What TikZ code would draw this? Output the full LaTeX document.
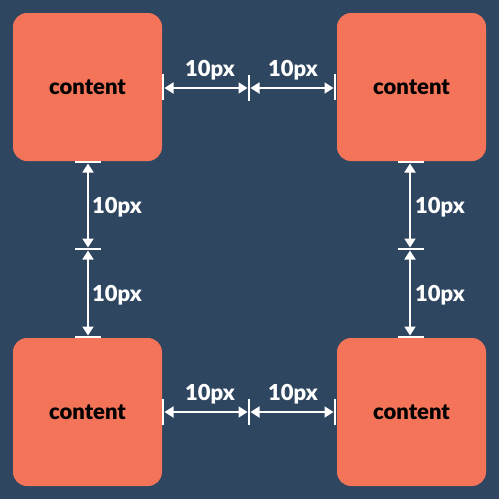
\documentclass[tikz,border=0pt]{standalone}
\usepackage{fontspec}
\setmainfont{Lato}[BoldFont={Lato Black}]
\usetikzlibrary{arrows.meta}
\definecolor{bg}{HTML}{2F4660}
\definecolor{boxc}{HTML}{F47459}
\tikzset{
  cbox/.style={fill=boxc, rounded corners=14pt, minimum width=149pt, minimum height=148pt, inner sep=0pt, font=\fontsize{22}{26}\selectfont\bfseries, text=black},
  tick/.style={draw=white, line width=2pt},
  dim/.style={draw=white, line width=1.8pt, {Triangle[length=9pt,width=11pt]}-{Triangle[length=9pt,width=11pt]}, shorten <=1.5pt, shorten >=1.5pt},
  lbl/.style={text=white, font=\fontsize{22}{26}\selectfont\bfseries, inner sep=0pt}
}
\begin{document}
\begin{tikzpicture}[x=1pt,y=-1pt]
\fill[bg] (0,0) rectangle (499,499);
\useasboundingbox (0,0) rectangle (499,499);
% boxes
\node[cbox] (tl) at (87.5,87) {content};
\node[cbox] (tr) at (411.5,87) {content};
\node[cbox] (bl) at (87.5,412) {content};
\node[cbox] (br) at (411.5,412) {content};
% top horizontal
\coordinate (t1) at (163,88);
\coordinate (t2) at (249,88);
\coordinate (t3) at (335,88);
\draw[tick] (163,74) -- (163,100);
\draw[tick] (249,75) -- (249,101);
\draw[tick] (335,74) -- (335,100);
\draw[dim] (t1) -- (t2);
\draw[dim] (t2) -- (t3);
\node[lbl] at (210,70) {10px};
\node[lbl] at (293,70) {10px};
% bottom horizontal
\coordinate (b1) at (163,412);
\coordinate (b2) at (249,412);
\coordinate (b3) at (335,412);
\draw[tick] (163,399) -- (163,425);
\draw[tick] (249,399) -- (249,425);
\draw[tick] (335,399) -- (335,425);
\draw[dim] (b1) -- (b2);
\draw[dim] (b2) -- (b3);
\node[lbl] at (210,394) {10px};
\node[lbl] at (293,394) {10px};
% left vertical
\coordinate (l1) at (88,162);
\coordinate (l2) at (88,249);
\coordinate (l3) at (88,337);
\draw[tick] (75,162) -- (101,162);
\draw[tick] (75,249) -- (101,249);
\draw[tick] (75,337) -- (101,337);
\draw[dim] (l1) -- (l2);
\draw[dim] (l2) -- (l3);
\node[lbl] at (117,207) {10px};
\node[lbl] at (117,295) {10px};
% right vertical
\coordinate (r1) at (410,162);
\coordinate (r2) at (410,249);
\coordinate (r3) at (410,337);
\draw[tick] (398,162) -- (424,162);
\draw[tick] (398,249) -- (424,249);
\draw[tick] (398,337) -- (424,337);
\draw[dim] (r1) -- (r2);
\draw[dim] (r2) -- (r3);
\node[lbl] at (440,207) {10px};
\node[lbl] at (440,295) {10px};
\end{tikzpicture}
\end{document}
